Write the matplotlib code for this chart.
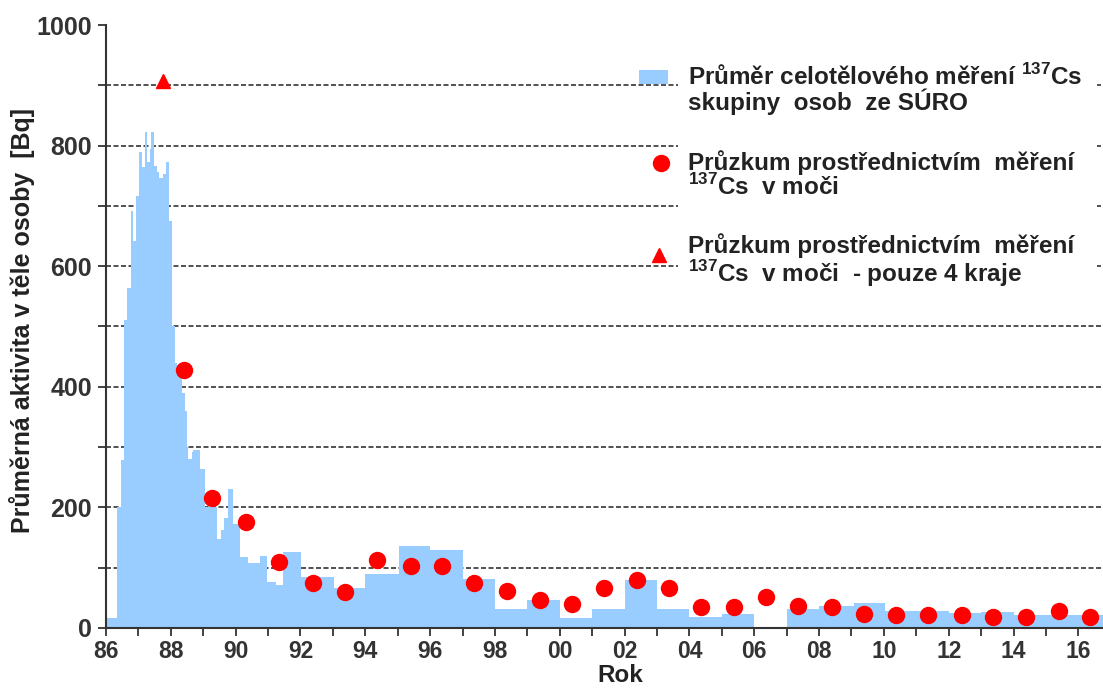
import matplotlib
matplotlib.use("Agg")
import matplotlib.pyplot as plt
from matplotlib.ticker import MultipleLocator, FuncFormatter
from matplotlib.patches import Rectangle

plt.rcParams['font.family'] = ['Liberation Sans', 'DejaVu Sans']
plt.rcParams['font.weight'] = 'bold'
plt.rcParams['mathtext.fontset'] = 'custom'
plt.rcParams['mathtext.rm'] = 'Liberation Sans'
plt.rcParams['mathtext.bf'] = 'Liberation Sans:bold'

# whole-body counting (SÚRO group): step edges in years and mean activity [Bq]
wb_edges = [1986.0, 1986.35, 1986.45, 1986.55, 1986.64, 1986.76, 1986.84, 1986.92,
            1987.02, 1987.10, 1987.19, 1987.28, 1987.35, 1987.39, 1987.48, 1987.57,
            1987.65, 1987.75, 1987.86, 1987.93, 1988.04, 1988.12, 1988.20, 1988.33,
            1988.43, 1988.49, 1988.54, 1988.64, 1988.69, 1988.89, 1989.05, 1989.43,
            1989.56, 1989.64, 1989.77, 1989.92, 1990.13, 1990.39, 1990.75, 1990.97,
            1991.25, 1991.47, 1992.03, 1993.03, 1994.0, 1995.03, 1996.0, 1997.0,
            1998.0, 1999.0, 2000.0, 2001.0, 2002.0, 2003.0, 2004.0, 2005.0, 2006.0,
            2007.0, 2008.0, 2009.07, 2010.03, 2011.0, 2012.0, 2013.0, 2014.0, 2015.0,
            2016.0, 2017.0]
wb_values = [17, 200, 278, 511, 564, 692, 642, 717,
             789, 764, 822, 772, 794, 822, 767, 756, 747, 753, 772, 675,
             500, 440, 420, 390, 360, 300, 280, 292, 295, 264,
             200, 148, 162, 183, 231, 173,
             117, 107, 120, 76, 72, 126,
             85, 67, 89, 136, 130, 82, 32, 47,
             16, 32, 80, 32, 19, 24, 0, 32, 37, 41,
             28, 28, 25, 27, 21, 21, 21]

# urine 137Cs survey
urine_years = [1988.42, 1989.26, 1990.33, 1991.35, 1992.40, 1993.37, 1994.35, 1995.40,
               1996.37, 1997.35, 1998.38, 1999.38, 2000.37, 2001.36, 2002.39, 2003.37,
               2004.37, 2005.37, 2006.37, 2007.36, 2008.40, 2009.40, 2010.37, 2011.37,
               2012.40, 2013.37, 2014.37, 2015.40, 2016.37]
urine_values = [428, 215, 175, 110, 74, 59, 112, 103,
                103, 74, 62, 46, 40, 67, 79, 67,
                34, 34, 51, 37, 34, 24, 21, 21,
                21, 19, 19, 28, 19]

# urine survey, only 4 regions
region4_years = [1987.76]
region4_values = [907]

grid_levels = [100, 200, 300, 400, 500, 600, 700, 800, 900]

legend_labels = [
    'Průměr celotělového měření $^{137}$Cs\nskupiny  osob  ze SÚRO',
    'Průzkum prostřednictvím  měření\n$^{137}$Cs  v moči',
    'Průzkum prostřednictvím  měření\n$^{137}$Cs  v moči  - pouze 4 kraje',
]

dark = '#333333'
blue = '#99CCFF'

fig = plt.figure(figsize=(11.03, 6.91), dpi=100)
ax = fig.add_axes([0.0961, 0.0912, 0.9039, 0.8726])

for g in grid_levels:
    ax.axhline(g, color=dark, lw=1.2, ls=(0, (3, 1.5)), zorder=0.5)

ax.stairs(wb_values, wb_edges, fill=True, color=blue, lw=0, zorder=2)
ax.plot(urine_years, urine_values, 'o', color='#FF0000', ms=11.5, mec='#FF0000', zorder=4)
ax.plot(region4_years, region4_values, '^', color='#FF0000', ms=10.5, zorder=4)

ax.set_xlim(1986, 2016.76)
ax.set_ylim(0, 1000)

ax.xaxis.set_major_locator(MultipleLocator(2))
ax.xaxis.set_minor_locator(MultipleLocator(1))
ax.xaxis.set_major_formatter(FuncFormatter(lambda v, p: '%02d' % (int(round(v)) % 100)))
ax.yaxis.set_major_locator(MultipleLocator(200))
ax.yaxis.set_minor_locator(MultipleLocator(100))

ax.tick_params(which='both', direction='out', length=6, width=1.3, color=dark,
               labelcolor=dark)
ax.tick_params(axis='x', labelsize=16.5, pad=3)
ax.tick_params(axis='y', labelsize=18, pad=4)
for lab in ax.get_xticklabels() + ax.get_yticklabels():
    lab.set_fontweight('bold')

for s in ['top', 'right']:
    ax.spines[s].set_visible(False)
for s in ['left', 'bottom']:
    ax.spines[s].set_color(dark)
    ax.spines[s].set_linewidth(1.5)
    ax.spines[s].set_zorder(5)

ax.set_ylabel('Průměrná aktivita v těle osoby  [Bq]', fontsize=18, fontweight='bold',
              color='#222222')
ax.yaxis.set_label_coords(-0.071, 0.51)
ax.set_xlabel('Rok', fontsize=17.5, fontweight='bold', color='#222222')
ax.xaxis.set_label_coords(0.516, -0.0595)

# legend drawn by hand so the symbols sit on the first text line
ax.add_patch(Rectangle((0.574, 0.557), 0.42, 0.393, transform=ax.transAxes,
                       facecolor='white', edgecolor='none', zorder=1.5))
text_tops = [0.936, 0.793, 0.654]
for lab, yt in zip(legend_labels, text_tops):
    ax.text(0.584, yt, lab, transform=ax.transAxes, fontsize=17.5, fontweight='bold',
            color='#222222', va='top', ha='left', linespacing=0.97, zorder=6)
ax.add_patch(Rectangle((0.5346, 0.903), 0.029, 0.023, transform=ax.transAxes,
                       facecolor=blue, edgecolor='none', zorder=6))
ax.plot([0.5563], [0.7706], 'o', color='#FF0000', ms=11.5, transform=ax.transAxes,
        clip_on=False, zorder=6)
ax.plot([0.5547], [0.6186], '^', color='#FF0000', ms=10.5, transform=ax.transAxes,
        clip_on=False, zorder=6)

fig.savefig('out.png', dpi=100)
